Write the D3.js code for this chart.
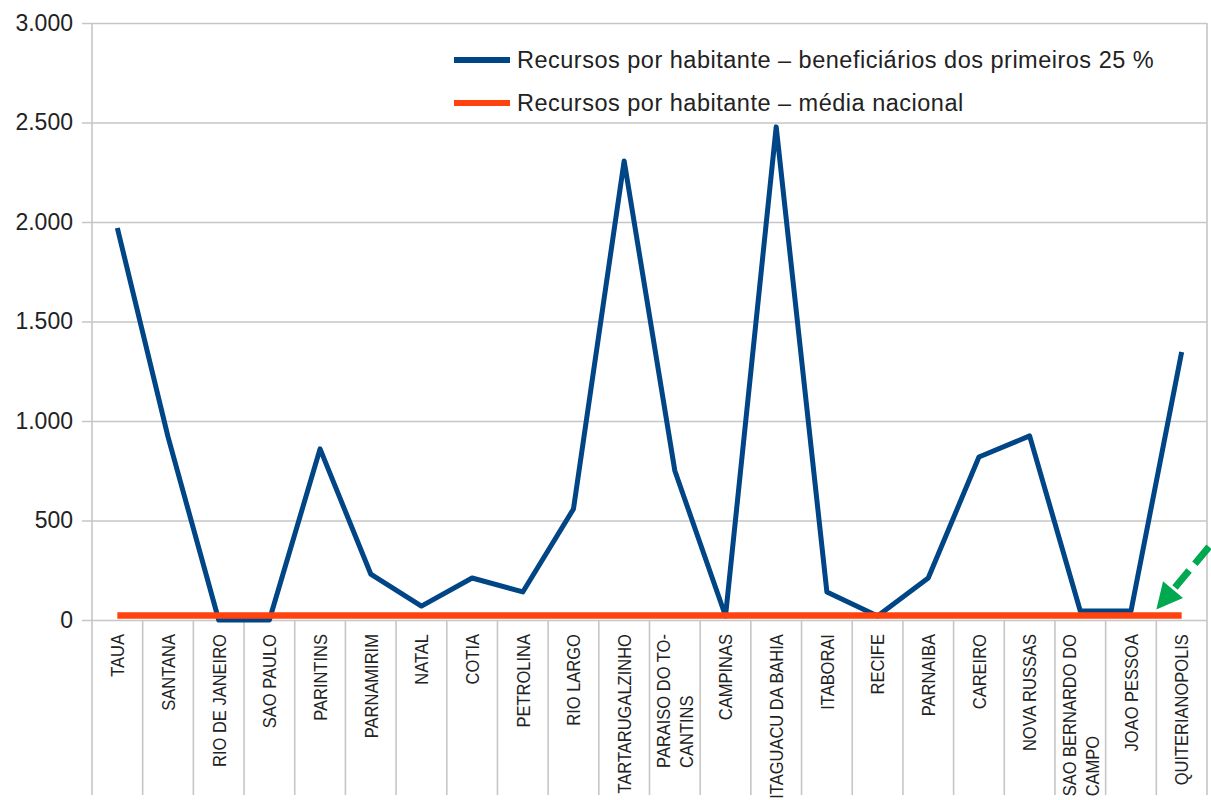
<!DOCTYPE html>
<html>
<head>
<meta charset="utf-8">
<script src="https://cdn.jsdelivr.net/npm/d3@7"></script>
<style>
body{margin:0;background:#fff}
svg{display:block;font-family:'Liberation Sans',Arial,sans-serif}
</style>
</head>
<body>
<div id="chart"></div>
<script>
(function(){
const cidades=['TAUA','SANTANA','RIO DE JANEIRO','SAO PAULO','PARINTINS','PARNAMIRIM','NATAL','COTIA','PETROLINA','RIO LARGO',
 'TARTARUGALZINHO','PARAISO DO TO-\nCANTINS','CAMPINAS','ITAGUACU DA BAHIA','ITABORAI','RECIFE','PARNAIBA','CAREIRO',
 'NOVA RUSSAS','SAO BERNARDO DO\nCAMPO','JOAO PESSOA','QUITERIANOPOLIS'];
const primeiros25=[1970,920,0,0,860,231,70,211,141,558,2307,750,20,2478,141,20,211,819,925,45,45,1347];
const mediaNacional=[22,22,22,22,22,22,22,22,22,22,22,22,22,22,22,22,22,22,22,22,22,22];
const yTicks=[0,500,1000,1500,2000,2500,3000];
const legendas=['Recursos por habitante – beneficiários dos primeiros 25 %','Recursos por habitante – média nacional'];
const cores=['#004586','#ff420e'];

const W=1211,H=800;
const left=92,right=1207,top=23,base=620,bottom=795,labTop=634;

const svg=d3.select('#chart').append('svg').attr('width',W).attr('height',H);

const x=d3.scaleBand().domain(cidades).range([left,right]);
const cx=d=>x(d)+x.bandwidth()/2;
const y=d3.scaleLinear().domain([0,3000]).range([base,top]);
const fmt=d3.formatLocale({decimal:',',thousands:'.',grouping:[3],currency:['R$','']}).format(',d');

// grid + y labels
const ga=svg.append('g').attr('transform',`translate(${right},0)`)
 .call(d3.axisLeft(y).tickValues(yTicks).tickSize(right-left+10).tickPadding(9).tickFormat(fmt));
ga.select('.domain').remove();
ga.selectAll('line').attr('stroke','#c6c6c6').attr('stroke-width',1.6);
ga.selectAll('text').attr('font-size',23).attr('fill','#222').attr('font-family',"'Liberation Sans',Arial,sans-serif");

// separators under the axis
const bounds=cidades.map(d=>x(d)).concat([right]);
svg.append('g').selectAll('line').data(bounds).enter().append('line')
 .attr('x1',d=>d).attr('x2',d=>d)
 .attr('y1',(d,i)=>(i===0||i===bounds.length-1)?top:base).attr('y2',bottom)
 .attr('stroke','#c6c6c6').attr('stroke-width',1.6);

// category labels (rotated, longest line ends at labTop, lines start-aligned)
const lab=svg.append('g').attr('font-size',16.5).attr('fill','#222');
cidades.forEach(c=>{
 const lines=c.split('\n');
 const t=lab.append('text').attr('text-anchor','start');
 const spans=lines.map((l,i)=>t.append('tspan').attr('x',0)
  .attr('y',(i-(lines.length-1)/2)*20).attr('dy','0.36em').text(l));
 const L=d3.max(spans,s=>s.node().getComputedTextLength());
 t.attr('transform',`translate(${cx(c)},${labTop+L}) scale(1.15,1) rotate(-90)`);
});

// series
const line=d3.line().x((d,i)=>cx(cidades[i])).y(d=>y(d));
svg.append('path').attr('d',line(primeiros25)).attr('fill','none')
 .attr('stroke',cores[0]).attr('stroke-width',5).attr('stroke-linejoin','round');
svg.append('path').attr('d',line(mediaNacional)).attr('fill','none')
 .attr('stroke',cores[1]).attr('stroke-width',6.5);

// legend
const lg=svg.append('g');
legendas.forEach((t,i)=>{
 const ly=60+i*43;
 lg.append('line').attr('x1',454).attr('x2',510).attr('y1',ly).attr('y2',ly)
  .attr('stroke',cores[i]).attr('stroke-width',6);
 lg.append('text').attr('x',517).attr('y',ly+8).attr('font-size',23.5)
  .attr('letter-spacing',0.5).attr('fill','#222').text(t);
});

// green dashed arrow pointing at the national mean line
const last=cidades[cidades.length-1];
const tip=[x(last),y(mediaNacional[mediaNacional.length-1])-6];
const ang=-50*Math.PI/180, ux=Math.cos(ang), uy=Math.sin(ang);
const hl=26, hw=13;
const b=[tip[0]+ux*hl,tip[1]+uy*hl];
const arrow=svg.append('g').attr('fill','#00a94f').attr('stroke','#00a94f');
arrow.append('line').attr('x1',b[0]+ux*3).attr('y1',b[1]+uy*3)
 .attr('x2',b[0]+ux*140).attr('y2',b[1]+uy*140)
 .attr('stroke-width',7).attr('stroke-dasharray','22,9');
arrow.append('path').attr('stroke','none')
 .attr('d',`M${tip[0]},${tip[1]}L${b[0]-uy*hw},${b[1]+ux*hw}L${b[0]+uy*hw},${b[1]-ux*hw}Z`);
})();
</script>
</body>
</html>
